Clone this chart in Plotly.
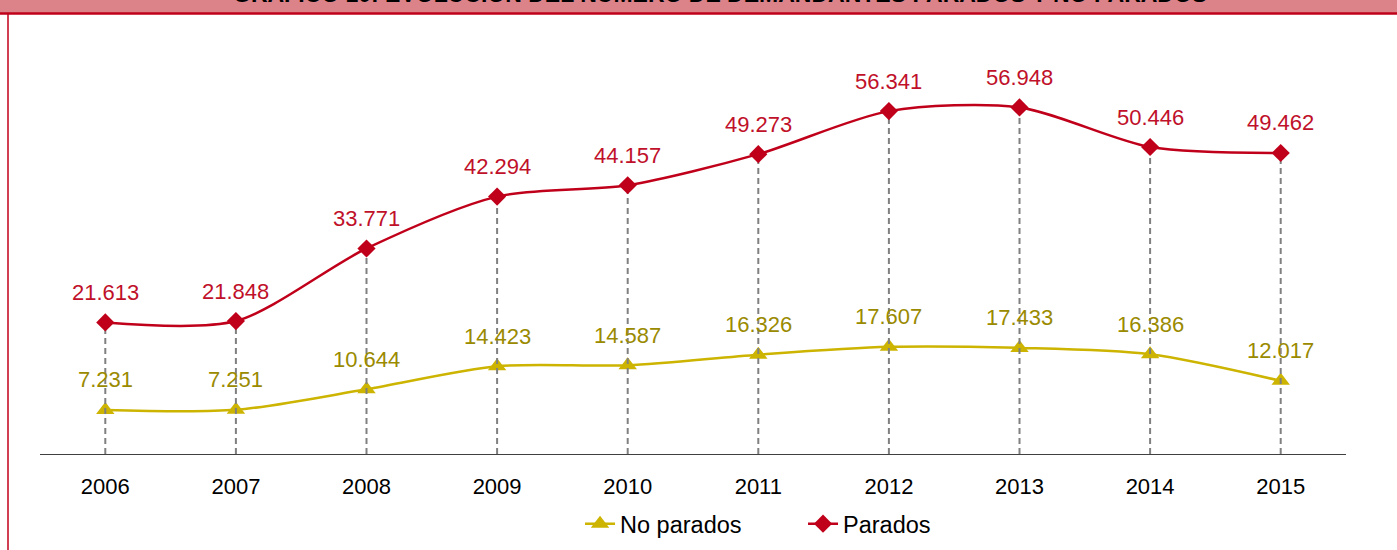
import plotly.graph_objects as go

years = ["2006", "2007", "2008", "2009", "2010", "2011", "2012", "2013", "2014", "2015"]
no_parados = [7231, 7251, 10644, 14423, 14587, 16326, 17607, 17433, 16386, 12017]
parados = [21613, 21848, 33771, 42294, 44157, 49273, 56341, 56948, 50446, 49462]
title_text = "GRÁFICO 10: EVOLUCIÓN DEL NÚMERO DE DEMANDANTES PARADOS Y NO PARADOS"

RED = "#C0001A"
RED_TXT = "#C0102A"
GOLD = "#CCB400"
GOLD_TXT = "#9A8A00"
FONT = "Liberation Sans, Arial, sans-serif"


def fmt(v):
    return f"{v:,}".replace(",", ".")


fig = go.Figure()

fig.add_trace(go.Scatter(
    x=years, y=no_parados, name="No parados", mode="lines+markers",
    line=dict(color=GOLD, width=2.5, shape="spline", smoothing=0.8),
    marker=dict(symbol="triangle-up", size=16, color=GOLD),
))

# drop lines from the higher series down to the axis
dx, dy = [], []
for yr, top in zip(years, parados):
    dx += [yr, yr, None]
    dy += [0, top, None]
fig.add_trace(go.Scatter(
    x=dx, y=dy, mode="lines", showlegend=False, hoverinfo="skip",
    line=dict(color="#808080", width=2, dash="6px,4px"),
))

fig.add_trace(go.Scatter(
    x=years, y=parados, name="Parados", mode="lines+markers",
    line=dict(color=RED, width=2.5, shape="spline", smoothing=0.8),
    marker=dict(symbol="diamond", size=14, color=RED),
))

annotations = []
for i, v in enumerate(parados):
    annotations.append(dict(x=i, y=v, xref="x", yref="y", text=fmt(v),
                            showarrow=False, yshift=30, yanchor="middle",
                            font=dict(family=FONT, size=22, color=RED_TXT)))
for i, v in enumerate(no_parados):
    annotations.append(dict(x=i, y=v, xref="x", yref="y", text=fmt(v),
                            showarrow=False, yshift=30, yanchor="middle",
                            font=dict(family=FONT, size=22, color=GOLD_TXT)))

annotations.append(dict(x=0.521, y=1.045, xref="paper", yref="paper", text="<b>" + title_text + "</b>",
                        showarrow=False, xanchor="center", yanchor="bottom",
                        font=dict(family=FONT, size=23, color="#000000")))

shapes = [
    dict(type="rect", xref="paper", yref="paper", x0=-0.1, x1=1.1, y0=1.0352, y1=1.2,
         fillcolor="#DC8289", line=dict(width=0), layer="below"),
    dict(type="line", xref="paper", yref="paper", x0=-0.1, x1=1.1, y0=1.0340, y1=1.0340,
         line=dict(color=RED, width=2.5)),
    dict(type="line", xref="paper", yref="paper", x0=-0.0245, x1=-0.0245, y0=1.035, y1=-0.4,
         line=dict(color=RED, width=1.5)),
]

fig.update_layout(
    width=1397, height=550,
    margin=dict(l=40, r=51, t=28, b=96, autoexpand=False),
    paper_bgcolor="white", plot_bgcolor="white",
    font=dict(family=FONT, size=20, color="#000000"),
    showlegend=True,
    legend=dict(orientation="h", x=0.4135, xanchor="left", y=-0.164, yanchor="middle",
                font=dict(family=FONT, size=23.5, color="#000000"),
                entrywidth=178, entrywidthmode="pixels"),
    xaxis=dict(type="category", range=[-0.5, 9.5], showgrid=False, zeroline=False,
               showline=True, linecolor="#404040", linewidth=1, ticks="", automargin=False,
               ticklabelstandoff=13, tickfont=dict(family=FONT, size=22, color="#000000"),
               fixedrange=True),
    yaxis=dict(range=[0, 70000], visible=False, showgrid=False, zeroline=False,
               automargin=False, fixedrange=True),
    annotations=annotations,
    shapes=shapes,
)

fig.write_html("out.html", config={"displayModeBar": False},
               post_script="document.body.style.margin='0';document.body.style.overflow='hidden';")
